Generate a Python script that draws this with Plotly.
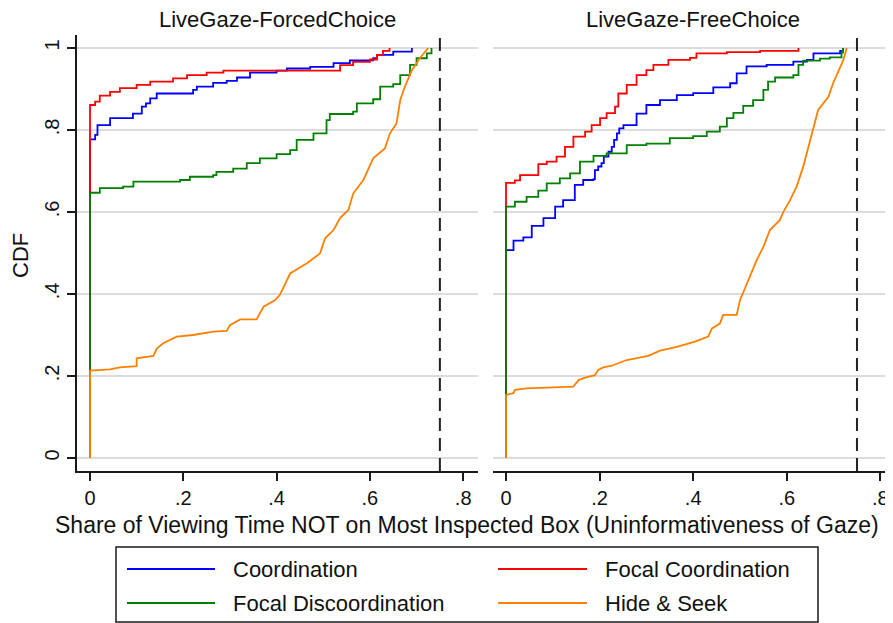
import plotly.graph_objects as go

# ---------------- data ----------------
panel_titles = ["LiveGaze-ForcedChoice", "LiveGaze-FreeChoice"]
series_names = ["Coordination", "Focal Coordination", "Focal Discoordination", "Hide & Seek"]
series_colors = ["#0000ff", "#ff0000", "#008000", "#ff8000"]

x_ticks = [0, 0.2, 0.4, 0.6, 0.8]
x_ticktext = ["0", ".2", ".4", ".6", ".8"]
y_ticks = [0, 0.2, 0.4, 0.6, 0.8, 1.0]
y_ticktext = ["0", ".2", ".4", ".6", ".8", "1"]
ref_line_x = 0.75

x_title = "Share of Viewing Time NOT on Most Inspected Box (Uninformativeness of Gaze)"
y_title = "CDF"

# Panel 1: LiveGaze-ForcedChoice
forced_coord_x = [0, 0, .011, .016, .043, .092, .111, .12, .129, .143, .221, .229, .264, .293, .315, .343, .4, .422, .472, .522, .557, .607, .615, .65, .69]
forced_coord_y = [0, .777, .788, .812, .829, .84, .857, .865, .877, .889, .898, .906, .915, .92, .928, .94, .945, .95, .954, .963, .97, .975, .983, .991, 1.0]

forced_focal_x = [0, 0, .011, .021, .043, .064, .1, .129, .178, .208, .25, .286, .536, .564, .6, .615, .628, .642]
forced_focal_y = [0, .861, .869, .884, .893, .902, .91, .918, .926, .934, .94, .945, .958, .966, .972, .983, .993, 1.0]

forced_disc_x = [0, 0, .021, .071, .093, .193, .214, .264, .271, .307, .336, .364, .4, .429, .443, .479, .507, .514, .564, .572, .607, .622, .65, .665, .686, .7, .722, .732]
forced_disc_y = [0, .647, .658, .662, .674, .678, .686, .69, .698, .706, .719, .731, .741, .751, .776, .792, .824, .839, .845, .865, .875, .906, .912, .934, .959, .975, .987, 1.0]

forced_hide_x = [0, 0, .043, .064, .1, .1, .136, .143, .157, .186, .221, .264, .293, .3, .322, .357, .372, .397, .407, .418, .429, .465, .493, .504, .522, .536, .554, .564, .586, .607, .632, .643, .657, .665, .675, .69, .707, .725]
forced_hide_y = [0, .213, .216, .221, .224, .243, .249, .267, .28, .296, .3, .308, .31, .324, .338, .338, .369, .385, .398, .426, .45, .475, .499, .536, .556, .585, .605, .645, .678, .731, .755, .792, .816, .873, .906, .946, .975, 1.0]

# Panel 2: LiveGaze-FreeChoice
free_coord_x = [0, 0, .016, .037, .055, .08, .105, .122, .147, .165, .187, .19, .197, .204, .209, .219, .226, .231, .237, .242, .251, .279, .3, .329, .365, .4, .443, .479, .493, .514, .557, .614, .643, .657, .714, .72]
free_coord_y = [0, .507, .53, .538, .566, .585, .613, .629, .666, .678, .68, .702, .711, .719, .735, .747, .759, .776, .792, .804, .812, .84, .861, .873, .885, .89, .904, .914, .938, .955, .959, .967, .971, .987, .993, 1.0]

free_focal_x = [0, 0, .019, .03, .069, .087, .108, .126, .144, .169, .183, .201, .215, .233, .24, .258, .279, .3, .315, .347, .393, .407, .472, .543, .625]
free_focal_y = [0, .671, .677, .69, .717, .723, .735, .759, .784, .796, .812, .829, .841, .857, .889, .91, .934, .946, .959, .971, .976, .987, .99, .993, 1.0]

free_disc_x = [0, 0, .019, .044, .069, .087, .115, .137, .158, .187, .215, .258, .3, .35, .4, .429, .457, .472, .486, .507, .528, .55, .56, .575, .614, .625, .635, .671, .692, .717, .72]
free_disc_y = [0, .613, .625, .637, .652, .67, .682, .694, .723, .737, .743, .763, .767, .78, .785, .796, .808, .829, .842, .859, .873, .898, .918, .928, .934, .959, .969, .974, .977, .989, 1.0]

free_hide_x = [0, 0, .016, .019, .044, .094, .144, .155, .169, .19, .197, .208, .226, .258, .304, .329, .365, .404, .432, .44, .457, .464, .493, .5, .511, .521, .536, .55, .564, .585, .593, .607, .621, .635, .65, .66, .667, .678, .689, .699, .71, .721, .728]
free_hide_y = [0, .154, .158, .166, .17, .172, .174, .19, .196, .202, .215, .221, .225, .239, .249, .262, .271, .284, .296, .316, .328, .349, .349, .385, .414, .442, .483, .515, .556, .58, .601, .629, .662, .71, .776, .816, .849, .865, .881, .914, .942, .971, 1.0]

panels = [
    [(forced_coord_x, forced_coord_y), (forced_focal_x, forced_focal_y),
     (forced_disc_x, forced_disc_y), (forced_hide_x, forced_hide_y)],
    [(free_coord_x, free_coord_y), (free_focal_x, free_focal_y),
     (free_disc_x, free_disc_y), (free_hide_x, free_hide_y)],
]

# ---------------- figure ----------------
# the page has an 8px body margin, so the figure is placed 8px in from the window corner
OFF = 8
W, H = 893 - OFF, 623 - OFF
FONT = "Liberation Sans, Arial, sans-serif"
AX = "#1a1a1a"
GRID = "#dcdcdc"
TXT = "#111111"


def px(v):
    return (v - OFF) / W


def py(v):
    return 1 - (v - OFF) / H


fig = go.Figure()
for p, series in enumerate(panels):
    xa = "x" if p == 0 else "x2"
    ya = "y" if p == 0 else "y2"
    for i, (xs, ys) in enumerate(series):
        shape = "linear" if i == 3 else "hv"
        fig.add_trace(go.Scatter(
            x=xs, y=ys, mode="lines", name=series_names[i],
            line=dict(color=series_colors[i], width=1.8, shape=shape),
            xaxis=xa, yaxis=ya, showlegend=False, hoverinfo="skip"))

y_dom = [py(471), py(35)]
y_rng = [-0.0317, 1.0317]

common_x = dict(tickvals=x_ticks, ticktext=x_ticktext, showline=True, linecolor=AX, linewidth=2,
                ticks="outside", ticklen=8, tickwidth=1.5, tickcolor=AX, showgrid=False,
                zeroline=False, tickfont=dict(size=20, color=TXT, family=FONT), fixedrange=True)

fig.update_layout(
    width=W, height=H, margin=dict(l=0, r=0, t=0, b=0),
    paper_bgcolor="white", plot_bgcolor="white",
    font=dict(family=FONT, color=TXT),
    xaxis=dict(domain=[px(77), px(478)], range=[-0.0279, 0.8317], anchor="y", **common_x),
    xaxis2=dict(domain=[px(493), 1.0], range=[-0.0278, 0.827], anchor="y2", **common_x),
    yaxis=dict(domain=y_dom, range=y_rng, anchor="x", tickvals=y_ticks, ticktext=y_ticktext,
               tickangle=-90, showline=True, linecolor=AX, linewidth=2, ticks="outside",
               ticklen=8, tickwidth=1.5, tickcolor=AX, showgrid=True, gridcolor=GRID,
               gridwidth=1.5, zeroline=False, tickfont=dict(size=20, color=TXT, family=FONT)),
    yaxis2=dict(domain=y_dom, range=y_rng, anchor="x2", tickvals=y_ticks, showticklabels=False,
                showline=False, ticks="", showgrid=True, gridcolor=GRID, gridwidth=1.5,
                zeroline=False),
    showlegend=False,
)

for xa, yd in [("x", "y domain"), ("x2", "y2 domain")]:
    fig.add_shape(type="line", xref=xa, yref=yd,
                  x0=ref_line_x, x1=ref_line_x, y0=0, y1=1,
                  line=dict(color="#222", width=2, dash="13px,7px"))

# panel titles
for p, t in enumerate(panel_titles):
    cx = (77 + 478) / 2 if p == 0 else (493 + 893) / 2
    fig.add_annotation(text=t, x=px(cx), y=py(19), xref="paper", yref="paper",
                       showarrow=False, font=dict(size=22, family=FONT, color=TXT),
                       xanchor="center", yanchor="middle")

fig.add_annotation(text=x_title, x=px(467.5), y=py(525), xref="paper", yref="paper",
                   showarrow=False, font=dict(size=23, family=FONT, color=TXT),
                   xanchor="center", yanchor="middle")
fig.add_annotation(text=y_title, x=px(20), y=py(256), xref="paper", yref="paper",
                   showarrow=False, textangle=-90, font=dict(size=22, family=FONT, color=TXT),
                   xanchor="center", yanchor="middle")

# legend box (two columns, drawn as a key under the panels)
fig.add_shape(type="rect", xref="paper", yref="paper",
              x0=px(116), x1=px(818), y0=py(622), y1=py(547),
              line=dict(color=AX, width=1.5), fillcolor="white", layer="below")
legend_slots = [(127, 215, 231, 569), (498, 587, 603, 569), (127, 215, 231, 603), (498, 587, 603, 603)]
for i, (lx0, lx1, tx, ly) in enumerate(legend_slots):
    fig.add_shape(type="line", xref="paper", yref="paper",
                  x0=px(lx0), x1=px(lx1), y0=py(ly), y1=py(ly),
                  line=dict(color=series_colors[i], width=2))
    fig.add_annotation(text=series_names[i], x=px(tx), y=py(ly), xref="paper", yref="paper",
                       showarrow=False, xanchor="left", yanchor="middle",
                       font=dict(size=22, family=FONT, color=TXT))

fig.write_html("out.html")
